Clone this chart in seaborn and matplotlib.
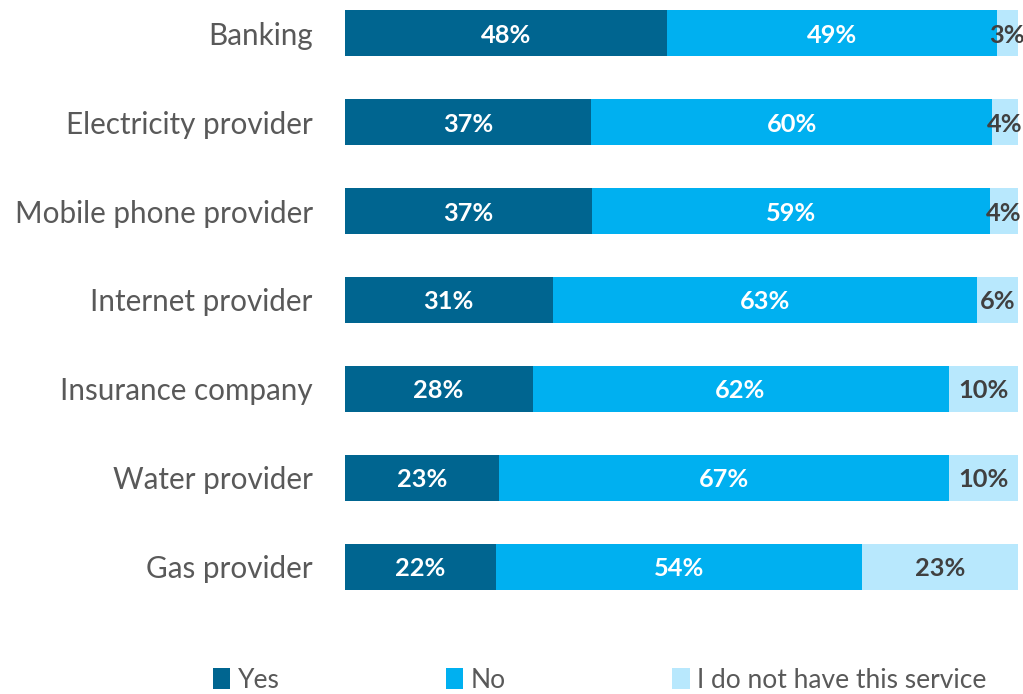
import matplotlib
matplotlib.use("Agg")
import matplotlib.pyplot as plt
import seaborn as sns
import pandas as pd
import numpy as np
from matplotlib.patches import Patch

categories = ["Banking", "Electricity provider", "Mobile phone provider", "Internet provider",
              "Insurance company", "Water provider", "Gas provider"]
yes = [47.8, 36.6, 36.8, 30.9, 27.9, 22.9, 22.4]
no = [49.1, 59.6, 59.0, 63.0, 61.8, 66.8, 54.4]
none = [3.1, 3.8, 4.2, 6.1, 10.3, 10.3, 23.2]
series = ["Yes", "No", "I do not have this service"]
colors = ["#006590", "#00B0F0", "#B8E8FD"]
label_colors = ["white", "white", "#404040"]

sns.set_theme(style="white")
plt.rcParams["font.family"] = ["Lato", "DejaVu Sans"]

df = pd.DataFrame({"cat": categories, "Yes": yes, "No": no, "I do not have this service": none})
df["c1"] = df["Yes"]
df["c2"] = df["Yes"] + df["No"]
df["c3"] = df["c2"] + df["I do not have this service"]

fig = plt.figure(figsize=(10.23, 6.94), dpi=100)
ax = fig.add_axes([0.337, 0.1499, 0.658, 0.8357])

for col, c in zip(["c3", "c2", "c1"], colors[::-1]):
    sns.barplot(data=df, x=col, y="cat", order=categories, color=c, width=0.52,
                saturation=1, ax=ax, orient="h", linewidth=0)

ax.set_xlim(0, 100)
ax.set_ylim(6.26, -0.26)
ax.set_xlabel("")
ax.set_ylabel("")
ax.set_xticks([])
for s in ax.spines.values():
    s.set_visible(False)
ax.tick_params(axis="y", length=0, pad=23, labelsize=21.3, labelcolor="#595959")

starts = [np.zeros(len(df)), df["c1"].values, df["c2"].values]
for vals, st, lc in zip([yes, no, none], starts, label_colors):
    for i, (v, s0) in enumerate(zip(vals, st)):
        ax.text(s0 + v / 2, i, f"{round(v)}%", ha="center", va="center_baseline",
                color=lc, fontsize=18.3, fontweight="bold")

handles = [Patch(facecolor=c, edgecolor="none") for c in colors]
fig.legend(handles, series, loc="center left", bbox_to_anchor=(0.208, 0.02), ncol=3,
           frameon=False, fontsize=19.0, handlelength=0.65, handleheight=0.85,
           handletextpad=0.3, columnspacing=6.3, labelcolor="#595959",
           borderpad=0, borderaxespad=0)

fig.savefig("out.png", dpi=100)
